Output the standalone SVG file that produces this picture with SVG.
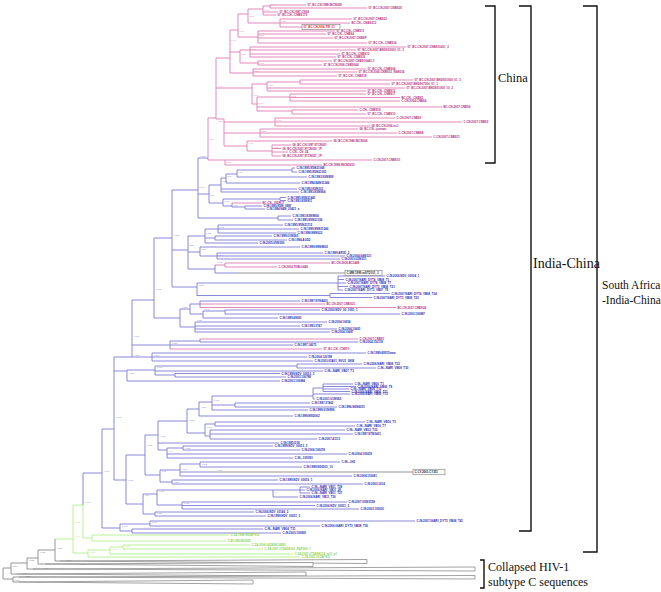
<svg xmlns="http://www.w3.org/2000/svg" width="661" height="592" viewBox="0 0 661 592">
<style>
.pk{stroke:#e07ab2;fill:none;stroke-width:0.9}
.bl{stroke:#7c7cd6;fill:none;stroke-width:0.9}
.gn{stroke:#b2ee88;fill:none;stroke-width:0.9}
.gy{stroke:#8a8a8a;fill:none;stroke-width:0.9}
.tri{stroke:#8a8a8a;fill:#fff;stroke-width:0.8}
.box{stroke:#8a8a8a;fill:#fff;stroke-width:0.7}
text{font-family:"Liberation Sans",Arial,sans-serif}
.lp text{fill:#b8307e;font-size:2.9px;font-weight:bold}
.lb text{fill:#2a2ab0;font-size:2.9px;font-weight:bold}
.lg text{fill:#8cd456;font-size:2.9px;font-weight:bold}
.bp text{fill:#e48cc0;font-size:2.1px}
.bb text{fill:#8a8ad2;font-size:2.1px}
.bg text{fill:#a8e07a;font-size:2.1px}
.by text{fill:#888;font-size:2.1px}
.br{stroke:#111;stroke-width:1.4;fill:none}
.big{font-family:"Liberation Serif","Times New Roman",serif;fill:#111}
</style>
<rect width="661" height="592" fill="#fff"/>
<g id="connectors">
<path class="pk" d="M208 118V160M208 118H216M208 160H225M225 160V165M225 160H372M225 165H322M216 58V119M216 58H230M216 88H252M216 119H224M230 30V73M230 30H238M230 52H240M230 73H253M238 14V37M238 14H248M238 37H258M248 9V23M248 9H263M248 23H280M263 6V15M263 6H270M263 12H278M263 15H276M270 5V8M270 5H306M270 8H367M280 19V27M280 19H352M280 23H350M280 27H302M258 31V43M258 31H335M258 34H326M258 38H333M258 43H367M240 50V63M240 50H250M240 63H258M250 47V57M250 47H406M250 50H356M250 54H340M250 57H336M258 61V65M258 61H332M258 65H322M253 69V76M253 69H366M253 72H357M253 76H337M252 84V104M252 84H267M252 104H257M267 82V91M267 82H300M267 88H405M267 91H366M300 80V84M300 80H413M300 84H390M257 97V111M257 97H290M257 107H442M257 111H292M290 94V101M290 94H366M290 97.5H400M290 101H400M292 110V114M292 110H358M292 114H366M224 119V146M224 122H275M224 133H260M224 146H247M275 118V126M275 118H395M275 122H462M275 126H370M260 129V137M260 129H358M260 133H397M260 137H432M247 141V151M247 141H332M247 151H272M272 145V156M272 145H291M272 148.5H281M272 152H288M272 156H281"/>
<path class="pk" d="M232 203H261M215 265H225M225 263V267M225 263H330M225 267H277M200 304H325M200 307.5H396M200 339H358M170 349H322"/>
<path class="bl" d="M198 158H208M198 158V218M198 194H209M198 218H278M278 216V220M278 216H291M278 220H293M209 185V203M209 185H221M209 203H223M221 178V192M221 178H226M221 189H297M221 192H299M226 174V183M226 174H237M226 183H300M237 170V177M237 170H292M237 177H307M292 168V172M292 168H295M292 172H297M223 199V206M223 199H280M223 206H232M280 197.5V200.5M280 197.5H286M280 200.5H286M232 203V207M232 207H245M245 206V209M245 206H262M245 209H265"/>
<path class="bl" d="M172 190V287M172 190H198M172 250H188M172 287H197M188 236V269M188 236H205M188 252H200M188 269H215M205 229V243M205 229H218M205 238H215M205 243H258M218 225V233M218 225H283M218 229H299M218 233H296M215 236V240M215 236H272M215 240H287M200 247V256M200 247H300M200 256H217M217 253V259M217 253H323M217 256H345M217 259H340M215 265V273M215 273H238M197 283V296M197 283H338M197 295.5H330M338 276V290M338 276H385M338 279.5H344M338 283H346M338 286.5H348M338 290H343M330 293.5V297.5M330 293.5H390M330 297.5H372"/>
<path class="bl" d="M154 238V318M154 238H172M154 318H180M180 309V327M180 309H190M180 327H195M190 304V314M190 304H200M190 314H203M200 301V307.5M200 301H300M203 311V318M203 311H225M203 318H278M225 310V314M225 310H320M225 314H400M195 322V332M195 322H327M195 326H300M195 329H337M195 332H330M132 300V357M132 300H154M132 345H170M170 341V349M170 341H200M170 345H293M200 339V342M200 342H358"/>
<path class="bl" d="M114 357H152M152 353V361M152 353H366M152 357H307M152 361H313M114 371H127M127 370V381M127 370H155M127 381H280M155 366V375M155 366H297M155 371H323M155 375H175M297 364V368M297 364H362M297 368H376M175 373.5V377M175 373.5H280M175 377H286M114 357V480M102 429H114M114 480H126M102 429V528M102 528H120M83 473V505M83 473H102"/>
<path class="bl" d="M126 455V504M126 455H145M126 504H143M145 435V475M145 435H158M145 475H160M158 421V450M158 421H187M158 443H279M158 450H167M187 409V433M187 409H199M187 433H205M199 402V416M199 402H212M199 416H293M212 396V410M212 396H313M212 405H235M212 410H308M235 403V407M235 403H310M235 407H337M313 388V399M313 388H323M313 394H350M313 399H315M323 384V391.5M323 384H353M323 386.5H356M323 389H349M323 391.5H350M205 424V436M205 424H215M205 436H210M215 422V426M215 422H365M215 426H355M210 430V439M210 430H345M210 434H353M210 439H317M167 448V458M167 448H183M167 454H347M167 458H293M183 446V450M183 446H273M183 450H300"/>
<path class="bl" d="M160 470V482M160 470H180M160 482H172M180 464V476M180 464H200M180 472H215M180 476H352M200 462V467M200 462H340M200 467H302M172 480V484M172 480H278M172 484H363M143 494V514M143 494H157M143 514H155M157 490V505M157 490H273M157 505H182M273 490V497M273 490H300M273 497H298M300 487V493M300 487H310M300 490H305M300 493H310M182 502V509M182 502H347M182 505.5H315M182 509H359M155 512V516M155 512H254M155 516H266M120 524V531M120 524H150M120 531H132M150 521V526M150 521H415M150 526H320M132 529V533M132 529H263M132 533H281"/>
<path class="gy" d="M238 273H345M215 472H413"/>
<path class="gn" d="M83 505V538M83 538H92M92 535V541M92 535H229M92 541H226M73 505V553M73 505H83M73 553H88M88 550V557M88 550H110M88 557H300M110 547V554M110 547H123M110 554H293M123 545V549M123 545H250M123 549H263M55 539H73"/>
<path class="gy" d="M55 539V561M55 561H60M38 550V564M38 550H55M38 564H45M27 558V569M27 558H38M27 569H33M11 563V574M11 563H27M11 574H17M3 568V579M3 568H11M3 579H13M13 577V582M13 577H19M13 582H19"/>
</g>
<g id="collapsed">
<polygon class="tri" points="60,561 367,559.5 367,563.5"/>
<polygon class="tri" points="45,564 313,562.5 313,566.5"/>
<polygon class="tri" points="33,569 475,567 475,571"/>
<polygon class="tri" points="17,574 306,572 306,576"/>
<polygon class="tri" points="19,577 475,575.5 475,579"/>
<polygon class="tri" points="19,582 253,580 253,584"/>
</g>
<g id="china-leaves" class="lp">
<text x="307.5" y="6">07_BC.CN.1998.98CN009</text>
<text x="368.5" y="9">07_BC.CN.2007.CNBS20</text>
<text x="279.5" y="13">07_BC.CN.1997.CN54</text>
<text x="277.5" y="16">07_BC.CN.-.CNBS179</text>
<text x="353.5" y="20">07_BC.CN.2007.CNBS22</text>
<text x="351.5" y="24">BC.CN.-.CNBS212</text>
<text x="336.5" y="32">07_BC.CN.-.CNBS11</text>
<text x="327.5" y="35">07_BC.CN.-.CNBS4</text>
<text x="334.5" y="39">07_BC.CN.2007.CNBSP</text>
<text x="368.5" y="44">07_BC.CN.-.CNBS14</text>
<text x="407.5" y="48">07_BC.CN.2007.CNBS10411_2</text>
<text x="357.5" y="51">07_BC.CN.2007.BNDS03000_01_3</text>
<text x="341.5" y="55">07_BC.CN.-.CNBS13</text>
<text x="337.5" y="58">07_BC.CN.-.CNBS16</text>
<text x="333.5" y="62">07_BC.CN.2007.CNBS10441-1</text>
<text x="323.5" y="66">07_BC.CN.2006.CNBS044</text>
<text x="367.5" y="70">07_BC.CN.-.CNBS04</text>
<text x="358.5" y="73">07_BC.CN.2006.CNBS13_NSB014</text>
<text x="338.5" y="77">07_BC.CN.-.CNBS19</text>
<text x="414.5" y="81">07_BC.CN.2007.BNDS01000_01_3</text>
<text x="391.5" y="85">07_BC.CN.2007.BNDS07000_01_1</text>
<text x="406.5" y="89">07_BC.CN.2007.BNDS01000_10_2</text>
<text x="367.5" y="92">07_BC.CN.-.CNBS12</text>
<text x="367.5" y="95">07_BC.CN.-.CNBS17</text>
<text x="401.5" y="98.5">BC.CN.-.CNBS5</text>
<text x="401.5" y="102">C.CN.2004.CNBS4</text>
<text x="443.5" y="108">BC.CN.2007.CNBS6</text>
<text x="359.5" y="111">C.CN.-.CNBS18</text>
<text x="367.5" y="115">07_BC.CN.-.CNBS10</text>
<text x="396.5" y="119">C.CN.2007.CNBS3</text>
<text x="463.5" y="123">C.CN.2007.CNBS2</text>
<text x="371.5" y="127">08_BC.CN.2006.nx1</text>
<text x="359.5" y="130">08_BC.CN.-.yunnan</text>
<text x="398.5" y="134">C.CN.2007.CNBS8</text>
<text x="433.5" y="138">C.CN.2007.CNBS11</text>
<text x="333.5" y="142">08_BC.CN.1998.98CN006</text>
<text x="292.5" y="146">08_BC.CN.1997.97CN001</text>
<text x="282.5" y="149.5">08_BC.CN.2007.97CN020_1P</text>
<text x="289.5" y="153">C.CN.-.CN_24</text>
<text x="282.5" y="157">08_BC.CN.2007.97CN021_1P</text>
<text x="373.5" y="161">C.CN.2007.CNBS10</text>
<text x="323.5" y="166">BC.CN.1999.99CN2632</text>
<text x="262.5" y="204">BC.CN.-.ISDR17</text>
<text x="331.5" y="264">BC.CN.2006.BC0448</text>
<text x="278.5" y="268">C.CN.2006.TDBL0448</text>
<text x="326.5" y="305">BC.CN.2007.CNBS21</text>
<text x="397.5" y="308.5">BC.CN.2007.CNBS24</text>
<text x="359.5" y="340">C.CN.2007.CNBS7</text>
<text x="323.5" y="350">07_BC.CN.-.CN870</text>
</g>
<g id="tw01">
<rect class="box" x="302" y="24.4" width="38" height="5.2"/>
<text x="303.5" y="28.1" font-size="2.9" font-weight="bold" fill="#e02828">07_BC.CN.2006.TW_01</text>
</g>
<g id="mm-box">
<rect class="box" x="345" y="270.4" width="37" height="5.2"/>
<text x="346.5" y="274.1" font-size="2.9" font-weight="bold" fill="#333">C.MM.1999.mSTD101_3</text>
</g>
<g id="cy-box">
<rect class="box" x="413" y="469.3" width="32" height="5.4"/>
<text x="414.5" y="473.1" font-size="2.9" font-weight="bold" fill="#222">C.CY.2001.CY351</text>
</g>
<g id="india-leaves" class="lb">
<text x="296.5" y="169">C.IN.1995.95IN21068</text>
<text x="298.5" y="173">C.IN.1995.95IN21301</text>
<text x="308.5" y="178">C.IN.1993.93IN999</text>
<text x="301.5" y="184">C.IN.1994.94IN11246</text>
<text x="298.5" y="190">C.IN.1993.93IN101</text>
<text x="300.5" y="193">C.IN.1993.93IN904</text>
<text x="287.5" y="198.5">C.IN.1995.95IN21441</text>
<text x="287.5" y="201.5">C.IN.1993.93IN911</text>
<text x="263.5" y="207">C.IN.1995.95IN_0897</text>
<text x="266.5" y="210">C.IN.1994.94IN_20421_a</text>
<text x="292.5" y="217">C.IN.1993.93IN9806</text>
<text x="294.5" y="221">C.IN.1995.95IN21336</text>
<text x="284.5" y="226">C.IN.1995.95IN21112</text>
<text x="300.5" y="230">C.IN.1999.99IN11246</text>
<text x="297.5" y="234">C.IN.1998.98IN022</text>
<text x="273.5" y="237">C.IN.1999.01IN565</text>
<text x="288.5" y="241">C.IN.1994.AGD2</text>
<text x="259.5" y="244">C.IN.2005.05IN180</text>
<text x="301.5" y="248">C.IN.1999.99IN9802</text>
<text x="324.5" y="254">C.IN.1999.AR1D_2</text>
<text x="346.5" y="257">C.IN.2004.04IN121</text>
<text x="341.5" y="260">C.IN.2003.03IN331</text>
<text x="386.5" y="277">C.IN.2006.NDV_00034_1</text>
<text x="345.5" y="280.5">C.IN.2007.NARI_DYT4_VB08_T1</text>
<text x="347.5" y="284">C.IN.2007.NARI_DYT4_VB08_T7</text>
<text x="349.5" y="287.5">C.IN.2007.NARI_DYT3_VB08_T21</text>
<text x="344.5" y="291">C.IN.2007.NARI_DYT3_VB07_T8</text>
<text x="391.5" y="294.5">C.IN.2007.NARI_DYT4_VB08_T24</text>
<text x="373.5" y="298.5">C.IN.2007.NARI_DYT3_VB08_T25</text>
<text x="301.5" y="302">C.IN.1997.97IN4401</text>
<text x="321.5" y="311">C.IN.2000.NDV_00_1091_1</text>
<text x="401.5" y="315">C.IN.2003.100887</text>
<text x="279.5" y="319">C.IN.1999.49083</text>
<text x="328.5" y="323">C.IN.2004.10654</text>
<text x="301.5" y="327">C.IN.1993.3747</text>
<text x="338.5" y="330">C.IN.2004.10665</text>
<text x="331.5" y="333">C.IN.2004.10687</text>
<text x="359.5" y="343">C.IN.2004.116119</text>
<text x="294.5" y="346">C.IN.1997.14073</text>
<text x="367.5" y="354">C.IN.1999.49557aww</text>
<text x="308.5" y="358">C.IN.2004.120199</text>
<text x="314.5" y="362">C.IN.2003.05A01_NVU1_0808</text>
<text x="363.5" y="365">C.IN.2006.NARI_VB08_T22</text>
<text x="377.5" y="369">C.IN.-.NARI_VB08_T30</text>
<text x="324.5" y="372">C.IN.-.NARI_VB07_T3</text>
<text x="281.5" y="374.5">C.IN.1999.NDV_00012_2</text>
<text x="287.5" y="378">C.IN.2003.100788</text>
<text x="281.5" y="382">C.IN.2003.100884</text>
<text x="354.5" y="385">C.IN.-.NARI_VB06_T1</text>
<text x="357.5" y="387.5">C.IN.2006.NARI_VB06_T9</text>
<text x="350.5" y="390">C.IN.-.NARI_VB06_T12</text>
<text x="351.5" y="392.5">C.IN.2006.NARI_VB06_T11</text>
<text x="351.5" y="395">C.IN.2006.NARI_VB06_T13</text>
<text x="316.5" y="400">C.IN.2001.01IN565</text>
<text x="311.5" y="404">C.IN.1997.27462</text>
<text x="338.5" y="408">C.IN.1996.96IN6051</text>
<text x="309.5" y="411">C.IN.1999.01IN999</text>
<text x="294.5" y="417">C.IN.1999.MSD002</text>
<text x="366.5" y="423">C.IN.-.NARI_VB16_T5</text>
<text x="356.5" y="427">C.IN.-.NARI_VB16_T7</text>
<text x="346.5" y="431">C.IN.-.NARI_VB12_T23</text>
<text x="354.5" y="435">C.IN.1997.97IN1401</text>
<text x="318.5" y="440">C.IN.2007.41113</text>
<text x="280.5" y="444">C.IN.1995.D18</text>
<text x="274.5" y="447">C.IN.1999.NDV_00013_2</text>
<text x="301.5" y="451">C.IN.2006.100078</text>
<text x="348.5" y="455">C.IN.2004.105619</text>
<text x="294.5" y="459">C.IN.-.105093</text>
<text x="341.5" y="463">C.IN.-.JH3</text>
<text x="303.5" y="468">C.IN.1999.ND0501_10</text>
<text x="353.5" y="477">C.IN.2004.110681</text>
<text x="279.5" y="481">C.IN.1999.NDV_00016_1</text>
<text x="364.5" y="485">C.IN.2003.1614</text>
<text x="311.5" y="488">C.IN.-.NARI_VB11_T29</text>
<text x="306.5" y="491">C.IN.2006.NARI_VB11_28</text>
<text x="311.5" y="494">C.IN.-.NARI_VB11_T27</text>
<text x="299.5" y="498">C.IN.2006.NARI_VB11_T30</text>
<text x="348.5" y="503">C.IN.2007.05IN1558</text>
<text x="316.5" y="506.5">C.IN.2006.NDV_00011_2</text>
<text x="360.5" y="510">C.IN.2003.105610</text>
<text x="255.5" y="513">C.IN.2006.NDV_00146_2</text>
<text x="267.5" y="517">C.IN.1999.NDV_00011_3</text>
<text x="416.5" y="522">C.IN.2007.06ARI_DYT3_VB08_T41</text>
<text x="321.5" y="527">C.IN.2006.06ARI_DYT3_VB08_T30</text>
<text x="264.5" y="530">C.IN.-.NARI_VB04_T31</text>
<text x="282.5" y="534">C.IN.2003.100800</text>
</g>
<g id="africa-leaves" class="lg">
<text x="230.5" y="536">C.ZA.1999.99ZAPS12</text>
<text x="227.5" y="542">C.BI.1992.BI2583</text>
<text x="251.5" y="546">C.ZA.2004.04ZASK146B1</text>
<text x="264.5" y="550">C.ZA.2007.07ZASK001_EAP006_1</text>
<text x="294.5" y="555">C.ZA.2007.07ZASK014_w11_p1</text>
<text x="301.5" y="558">C.ZA.2001.01ZAPS21</text>
</g>
<g id="support-pink" class="bp">
<text x="271" y="5">0.996</text><text x="264" y="10.5">0.990</text><text x="249" y="16.5">0.726</text><text x="239" y="32">0.801</text><text x="231" y="41">0.999</text><text x="281" y="21.5">0.982</text><text x="259" y="36">0.837</text><text x="251" y="49.5">0.997</text><text x="241" y="55">0.969</text><text x="259" y="63.5">0.993</text><text x="254" y="71.5">0.997</text><text x="218" y="87">0.994</text><text x="268" y="85.5">0.870</text><text x="301" y="83">1</text><text x="253" y="96">0.963</text><text x="258" y="104">0.930</text><text x="291" y="97">0.992</text><text x="218" y="121.5">0.856</text><text x="276" y="121">0.900</text><text x="261" y="132">0.855</text><text x="248" y="144">0.777</text><text x="273" y="148">0.958</text><text x="209" y="140">0.999</text><text x="226" y="163">0.826</text>
</g>
<g id="support-blue" class="bb">
<text x="200" y="157">0.798</text><text x="199" y="188">0.998</text><text x="238" y="172.5">0.77</text><text x="227" y="177">0.78</text><text x="222" y="182">0.760</text><text x="210" y="196">0.79</text><text x="224" y="201.5">0.912</text><text x="233" y="205.5">0.926</text><text x="174" y="236">0.998</text><text x="206" y="234">0.823</text><text x="219" y="228">0.741</text><text x="201" y="250">0.780</text><text x="218" y="255.5">0.861</text><text x="189" y="246">0.871</text><text x="217" y="263">0.762</text><text x="199" y="286">0.955</text><text x="156" y="290">0.998</text><text x="182" y="308">0.889</text><text x="204" y="310">0.748</text><text x="197" y="321">0.756</text><text x="134" y="337">0.756</text><text x="172" y="344">0.888</text><text x="134" y="356">0.998</text><text x="154" y="356">0.999</text><text x="129" y="374">0.786</text><text x="157" y="368">0.966</text><text x="116" y="418">0.987</text><text x="214" y="401">0.971</text><text x="201" y="408">0.873</text><text x="189" y="421">0.863</text><text x="207" y="428">0.824</text><text x="160" y="437">0.980</text><text x="169" y="452">0.8</text><text x="185" y="449">0.892</text><text x="147" y="446">0.948</text><text x="162" y="472">0.81</text><text x="182" y="470">0.843</text><text x="202" y="465">0.862</text><text x="217" y="471">0.909</text><text x="174" y="483">0.861</text><text x="128" y="481">0.998</text><text x="145" y="496">0.80</text><text x="159" y="492">0.757</text><text x="275" y="493">1</text><text x="184" y="504">0.968</text><text x="157" y="514">0.826</text><text x="104" y="472">0.966</text><text x="152" y="523">0.900</text><text x="122" y="527">0.906</text><text x="85" y="503">0.770</text>
</g>
<g id="support-green" class="bg">
<text x="75" y="523">0.977</text><text x="75" y="537">0.947</text><text x="90" y="553">0.917</text><text x="112" y="550">0.975</text><text x="125" y="547">0.710</text>
</g>
<g id="support-grey" class="by">
<text x="57" y="549">0.953</text><text x="40" y="553">0.783</text><text x="29" y="561">0.835</text><text x="12" y="567">0.983</text><text x="14" y="580.5">0.998</text><text x="66" y="560.5">0.981</text><text x="80" y="565">0.976</text><text x="43" y="569">0.954</text><text x="22" y="574">0.788</text><text x="25" y="577">0.827</text><text x="37" y="583">0.98</text>
</g>
<g id="bracket-china">
<path class="br" d="M485 6H495V163H485"/>
<text class="big" x="498" y="82" font-size="12.5">China</text>
</g>
<g id="bracket-india-china">
<path class="br" d="M519 6H531V531H519"/>
<text class="big" x="533" y="268" font-size="14">India-China</text>
</g>
<g id="bracket-sa-india-china">
<path class="br" d="M583 6H597V552H583"/>
<text class="big" x="602" y="289" font-size="11.5">South Africa</text>
<text class="big" x="602" y="304" font-size="11.5">-India-China</text>
</g>
<g id="bracket-collapsed">
<path class="br" d="M480 560H484V588H480"/>
<text class="big" x="488" y="571" font-size="12">Collapsed HIV-1</text>
<text class="big" x="488" y="586" font-size="12">subtype C sequences</text>
</g>
</svg>
